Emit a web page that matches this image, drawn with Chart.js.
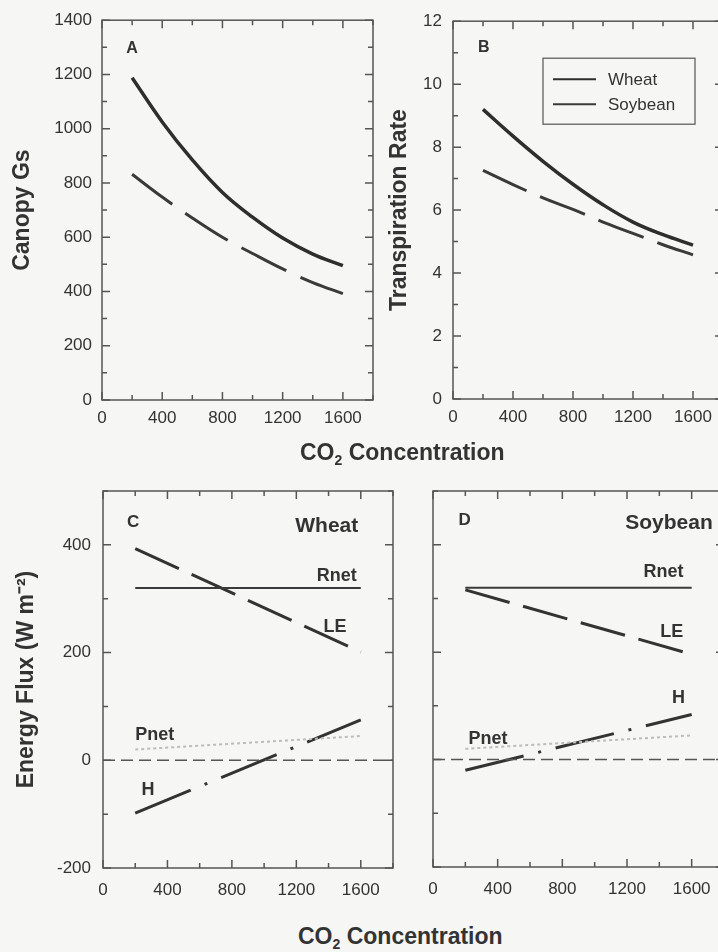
<!DOCTYPE html>
<html>
<head>
<meta charset="utf-8">
<script src="https://cdn.jsdelivr.net/npm/chart.js@4.4.1/dist/chart.umd.min.js"></script>
<style>
html,body{margin:0;padding:0;overflow:hidden;background:#f6f6f4;width:718px;height:952px}
.box{position:absolute}
.xtitle{position:absolute;font-family:"Liberation Sans",Arial,sans-serif;font-weight:bold;font-size:23px;color:#333;white-space:nowrap;line-height:28px}
.xtitle sub{font-size:14px;vertical-align:-5px}
</style>
</head>
<body>
<div class="box" style="left:0;top:0;width:380px;height:440px"><canvas id="chartA"></canvas></div>
<div class="box" style="left:370px;top:0;width:360px;height:440px"><canvas id="chartB"></canvas></div>
<div class="box" style="left:0;top:460px;width:400px;height:450px"><canvas id="chartC"></canvas></div>
<div class="box" style="left:400px;top:460px;width:330px;height:450px"><canvas id="chartD"></canvas></div>
<div class="xtitle" style="left:300px;top:438px">CO<sub>2</sub> Concentration</div>
<div class="xtitle" style="left:298px;top:922px">CO<sub>2</sub> Concentration</div>
<script>
// données
const co2 = [200,400,600,800,1000,1200,1400,1600]
const wheatGs = [1188,1025,885,765,674,597,538,495]
const soyGs = [832,748,671,600,540,483,433,392]
const wheatTr = [9.2,8.35,7.55,6.82,6.17,5.62,5.22,4.89]
const soyTr = [7.26,6.81,6.39,6.02,5.62,5.26,4.9,4.58]

const co2Ends = [200,1600]
const wheatRnet = [320,320]
const wheatLE = [393,201]
const wheatH = [-98,75]
const wheatPnet = [20,45]
const soyRnet = [320,320]
const soyLE = [316,196]
const soyH = [-20,84]
const soyPnet = [20,45]
const zeroX = [0,1800]
const zeroY = [0,0]

const xTicks = [0,400,800,1200,1600]
const gsTicks = [0,200,400,600,800,1000,1200,1400]
const trTicks = [0,2,4,6,8,10,12]
const fluxTicks = [-200,0,200,400]

const FONT = '"Liberation Sans", Arial, sans-serif'
const INK = '#333'

function pts(xs, ys){
return xs.map((x,i)=>({x:x,y:ys[i]}))
}

// cadre + graduations vers l'intérieur + textes
const framePlugin = {
id:'frame',
afterDatasetsDraw(chart, args, o){
const {ctx, chartArea:a, scales:{x,y}} = chart
ctx.save()
ctx.strokeStyle = '#555'
ctx.lineWidth = 1.5
ctx.strokeRect(a.left, a.top, a.right-a.left, a.bottom-a.top)
ctx.beginPath()
for(let v=x.min; v<=x.max; v+=o.xStep){
let px = x.getPixelForValue(v)
let len = v%o.xMajor===0 ? 8 : 5
ctx.moveTo(px,a.bottom); ctx.lineTo(px,a.bottom-len)
ctx.moveTo(px,a.top); ctx.lineTo(px,a.top+len)
}
for(let v=y.min; v<=y.max; v+=o.yStep){
let py = y.getPixelForValue(v)
let len = Math.abs(v%o.yMajor)<1e-9 ? 8 : 5
ctx.moveTo(a.left,py); ctx.lineTo(a.left+len,py)
ctx.moveTo(a.right,py); ctx.lineTo(a.right-len,py)
}
ctx.stroke()

ctx.fillStyle = INK
ctx.textAlign = 'center'
ctx.textBaseline = 'middle'
;(o.notes||[]).forEach(n=>{
ctx.font = 'bold '+n.size+'px '+FONT
ctx.fillText(n.text, x.getPixelForValue(n.x), y.getPixelForValue(n.y))
})

if(o.legend){
const L = o.legend
const bx = a.left+L.dx, by = a.top+L.dy
ctx.lineWidth = 1.2
ctx.strokeStyle = '#555'
ctx.strokeRect(bx, by, L.w, L.h)
ctx.textAlign = 'left'
ctx.font = '17px '+FONT
chart.data.datasets.forEach((ds,i)=>{
let ly = by+21+i*25
ctx.beginPath()
ctx.strokeStyle = ds.borderColor
ctx.lineWidth = 2
ctx.moveTo(bx+10,ly); ctx.lineTo(bx+53,ly)
ctx.stroke()
ctx.fillText(ds.label, bx+65, ly+1)
})
}
ctx.restore()
}
}
Chart.register(framePlugin)

function makeOptions(c){
return {
responsive:true,
maintainAspectRatio:false,
animation:false,
layout:{padding:{top:c.padTop,right:c.padRight,left:0,bottom:0}},
plugins:{
legend:{display:false},
tooltip:{enabled:false},
frame:c.frame
},
elements:{point:{radius:0},line:{borderCapStyle:'butt',fill:false}},
scales:{
x:{
type:'linear',min:0,max:1800,
grid:{display:false,drawTicks:false},
border:{display:false},
afterBuildTicks:s=>{s.ticks = xTicks.map(v=>({value:v}))},
afterFit:s=>{s.height = c.xH},
ticks:{autoSkip:false,maxRotation:0,padding:c.xPad,color:INK,font:{size:17,family:FONT},callback:v=>String(v)}
},
y:{
type:'linear',min:c.yMin,max:c.yMax,
grid:{display:false,drawTicks:false},
border:{display:false},
afterBuildTicks:s=>{s.ticks = c.yTicks.map(v=>({value:v}))},
afterFit:s=>{s.width = c.yW},
ticks:{display:c.yLabels,autoSkip:false,padding:c.yPad,color:INK,font:{size:17,family:FONT},callback:v=>String(v)},
title:{display:!!c.yTitle,text:c.yTitle,color:INK,font:{size:23,weight:'bold',family:FONT},padding:{top:c.titlePad,bottom:0}}
}
}
}
}

// A : conductance
new Chart(document.getElementById('chartA'),{
type:'line',
data:{datasets:[
{label:'Wheat',data:pts(co2,wheatGs),borderColor:'#2e2e2e',borderWidth:3.5,tension:0.4},
{label:'Soybean',data:pts(co2,soyGs),borderColor:'#3a3a3a',borderWidth:3,borderDash:[50,16],tension:0.4}
]},
options:makeOptions({padTop:16,padRight:7,xH:40,xPad:8,yW:102,yPad:10,yMin:0,yMax:1400,yTicks:gsTicks,yLabels:true,
yTitle:'Canopy Gs',titlePad:9,
frame:{xStep:200,xMajor:400,yStep:100,yMajor:200,notes:[{text:'A',x:200,y:1296,size:16}]}})
})

// B : transpiration
new Chart(document.getElementById('chartB'),{
type:'line',
data:{datasets:[
{label:'Wheat',data:pts(co2,wheatTr),borderColor:'#2e2e2e',borderWidth:3.5,tension:0.4},
{label:'Soybean',data:pts(co2,soyTr),borderColor:'#3a3a3a',borderWidth:3,borderDash:[48,15],tension:0.4}
]},
options:makeOptions({padTop:16,padRight:7,xH:41,xPad:8,yW:83,yPad:11,yMin:0,yMax:12,yTicks:trTicks,yLabels:true,
yTitle:'Transpiration Rate',titlePad:16,
frame:{xStep:200,xMajor:400,yStep:1,yMajor:2,notes:[{text:'B',x:205,y:11.15,size:16}],
legend:{dx:90,dy:37,w:152,h:66}}})
})

function fluxSets(rnet,le,h,pnet,leDash){
return [
{label:'zero',data:pts(zeroX,zeroY),borderColor:'#555',borderWidth:1.5,borderDash:[12,6]},
{label:'Pnet',data:pts(co2Ends,pnet),borderColor:'#bcbcbc',borderWidth:2,borderDash:[3,3]},
{label:'Rnet',data:pts(co2Ends,rnet),borderColor:'#3a3a3a',borderWidth:2},
{label:'LE',data:pts(co2Ends,le),borderColor:'#333',borderWidth:3,borderDash:leDash},
{label:'H',data:pts(co2Ends,h),borderColor:'#333',borderWidth:3,borderDash:[60,15,3,15]}
]
}

// C : bilan énergétique blé
new Chart(document.getElementById('chartC'),{
type:'line',
data:{datasets:fluxSets(wheatRnet,wheatLE,wheatH,wheatPnet,[48,14])},
options:makeOptions({padTop:31,padRight:7,xH:42,xPad:12,yW:103,yPad:12,yMin:-200,yMax:500,yTicks:fluxTicks,yLabels:true,
yTitle:'Energy Flux (W m\u207B\u00B2)',titlePad:13,
frame:{xStep:200,xMajor:400,yStep:100,yMajor:200,notes:[
{text:'C',x:187,y:441,size:17},
{text:'Wheat',x:1389,y:434,size:21},
{text:'Rnet',x:1451,y:342,size:18},
{text:'LE',x:1440,y:248,size:18},
{text:'Pnet',x:321,y:47,size:18},
{text:'H',x:280,y:-56,size:18}
]}})
})

// D : bilan énergétique soja
new Chart(document.getElementById('chartD'),{
type:'line',
data:{datasets:fluxSets(soyRnet,soyLE,soyH,soyPnet,[46,14])},
options:makeOptions({padTop:31,padRight:6,xH:43,xPad:12,yW:33,yPad:12,yMin:-200,yMax:500,yTicks:fluxTicks,yLabels:false,
yTitle:'',titlePad:0,
frame:{xStep:200,xMajor:400,yStep:100,yMajor:200,notes:[
{text:'D',x:195,y:446,size:17},
{text:'Soybean',x:1460,y:440,size:21},
{text:'Rnet',x:1426,y:350,size:18},
{text:'LE',x:1477,y:237,size:18},
{text:'H',x:1519,y:115,size:18},
{text:'Pnet',x:340,y:38,size:18}
]}})
})
</script>
</body>
</html>
